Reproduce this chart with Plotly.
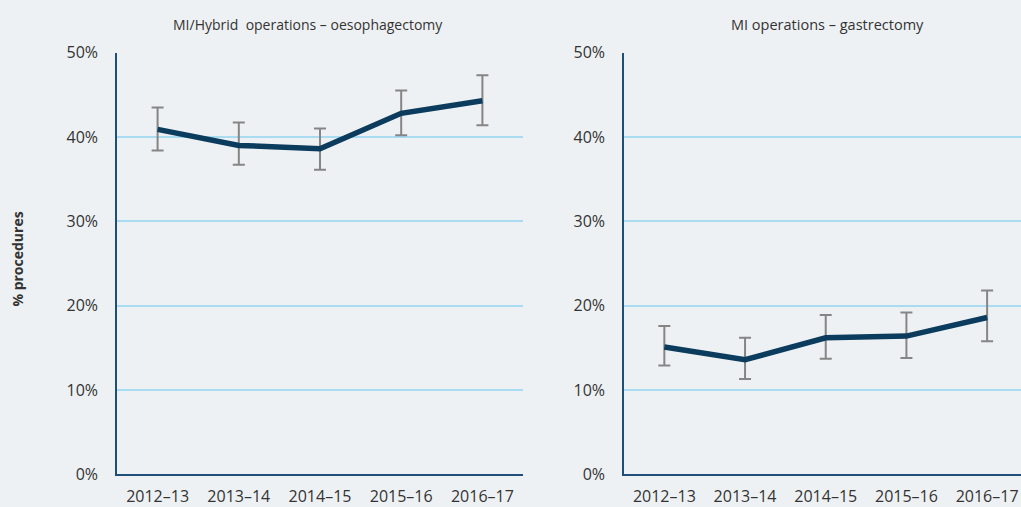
import plotly.graph_objects as go

years = ["2012–13", "2013–14", "2014–15", "2015–16", "2016–17"]

oeso_value = [40.9, 39.0, 38.6, 42.8, 44.3]
oeso_low = [38.4, 36.7, 36.1, 40.2, 41.4]
oeso_high = [43.5, 41.7, 41.0, 45.5, 47.3]

gast_value = [15.1, 13.6, 16.2, 16.4, 18.6]
gast_low = [12.9, 11.3, 13.7, 13.8, 15.8]
gast_high = [17.6, 16.2, 18.9, 19.2, 21.8]

titles = ["MI/Hybrid  operations – oesophagectomy", "MI operations – gastrectomy"]
y_ticks = [0, 10, 20, 30, 40, 50]
y_labels = ["0%", "10%", "20%", "30%", "40%", "50%"]

BG = "#eef1f3"
LINE = "#0b3c5d"
ERR = "#858585"
GRID = "#a9dcf1"
AXIS = "#1f4e79"
FONT = "Open Sans"
TXT = "#333333"

W, H = 1021, 507

fig = go.Figure()

series = [(oeso_value, oeso_low, oeso_high, "x", "y"),
          (gast_value, gast_low, gast_high, "x2", "y2")]
for vals, lo, hi, xa_, ya_ in series:
    fig.add_trace(go.Scatter(
        x=years, y=vals, mode="lines",
        line=dict(color=LINE, width=5.5),
        error_y=dict(type="data", symmetric=False,
                     array=[h - v for h, v in zip(hi, vals)],
                     arrayminus=[v - l for v, l in zip(vals, lo)],
                     color=ERR, thickness=2, width=6),
        xaxis=xa_, yaxis=ya_, showlegend=False, hoverinfo="skip"))

def xa(domain, rng, anchor):
    return dict(domain=domain, range=rng, type="category", anchor=anchor,
                showline=True, linecolor=AXIS, linewidth=1.5,
                showgrid=False, zeroline=False, ticks="",
                tickfont=dict(family=FONT, size=16, color=TXT),
                ticklabelstandoff=7, fixedrange=True)

def ya(domain, anchor):
    return dict(domain=domain, range=[0, 50], anchor=anchor,
                tickvals=y_ticks, ticktext=y_labels,
                showline=True, linecolor=AXIS, linewidth=1.5,
                showgrid=True, gridcolor=GRID, gridwidth=1.5,
                zeroline=False, ticks="",
                tickfont=dict(family=FONT, size=16, color=TXT),
                ticklabelstandoff=14, fixedrange=True)

y_dom = [(H - 487.5) / H, (H - 43.75) / H]

fig.update_layout(
    width=W, height=H, autosize=False,
    margin=dict(l=0, r=0, t=0, b=0, pad=0),
    paper_bgcolor=BG, plot_bgcolor=BG,
    xaxis=xa([117 / W, 523 / W], [-0.5, 4.5], "y"),
    yaxis=ya(y_dom, "x"),
    xaxis2=xa([624 / W, 1.0], [-0.5, 4.42], "y2"),
    yaxis2=ya(y_dom, "x2"),
)

fig.add_annotation(text=titles[0], x=308 / W, y=(H - 14.6) / H, xref="paper", yref="paper",
                   showarrow=False, font=dict(family=FONT, size=14, color=TXT),
                   xanchor="center", yanchor="middle")
fig.add_annotation(text=titles[1], x=827 / W, y=(H - 14.6) / H, xref="paper", yref="paper",
                   showarrow=False, font=dict(family=FONT, size=14.5, color=TXT),
                   xanchor="center", yanchor="middle")
fig.add_annotation(text="<b>% procedures</b>", x=18 / W, y=(H - 261.5) / H, xref="paper", yref="paper",
                   showarrow=False, textangle=-90, font=dict(family=FONT, size=14, color=TXT),
                   xanchor="center", yanchor="middle")

fig.write_html("out.html", config={"displayModeBar": False},
               post_script="document.body.style.margin='0';document.body.style.overflow='hidden';document.body.style.background='#eef1f3';")
